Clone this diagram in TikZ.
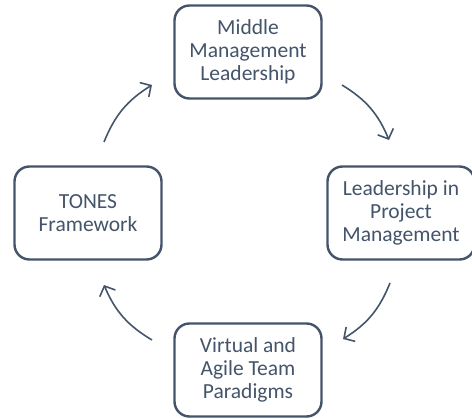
\documentclass[tikz,border=0pt]{standalone}
\usepackage{fontspec}
\setmainfont{Carlito}
\usetikzlibrary{arrows.meta, automata, positioning}

\definecolor{slate}{HTML}{44546A}

\begin{document}
\begin{tikzpicture}[
            auto,
            on grid,
            semithick,
            every edge/.style={draw=slate, line width=1.6bp,
                arrows={-Straight Barb[length=8bp, width=17bp]}}
        ]

        \useasboundingbox (0,0) rectangle (472bp,419bp);

        \tikzstyle{every state}=[
            draw=slate,
            line width=2.4bp,
            shape=rectangle,
            rounded corners=15bp,
            minimum width=147bp,
            minimum height=93bp,
            inner sep=0pt,
            align=center,
            text=slate,
            font=\fontsize{21.5bp}{23bp}\selectfont,
            fill=white
        ]

        % four stages, clockwise from the top
        \node[state] (mid) at (248bp,367bp) {Middle\\Management\\Leadership};
        \node[state] (proj) [below right=161bp and 153bp of mid] {Leadership in\\Project\\Management};
        \node[state] (virt) [below=318bp of mid] {Virtual and\\Agile Team\\Paradigms};
        \node[state] (tones) [below left=161bp and 160bp of mid] {TONES\\Framework};

        % free ends of the curved arrows
        \coordinate (a1) at (342bp,334bp);
        \coordinate (a2) at (389bp,279bp);
        \coordinate (b1) at (390bp,136bp);
        \coordinate (b2) at (343bp,80bp);
        \coordinate (c1) at (152bp,79bp);
        \coordinate (c2) at (104bp,134bp);
        \coordinate (d1) at (104bp,277bp);
        \coordinate (d2) at (152bp,334bp);

        \path (a1) edge[bend left=18] (a2);
        \path (b1) edge[bend left=18] (b2);
        \path (c1) edge[bend left=18] (c2);
        \path (d1) edge[bend left=18] (d2);

    \end{tikzpicture}
\end{document}
